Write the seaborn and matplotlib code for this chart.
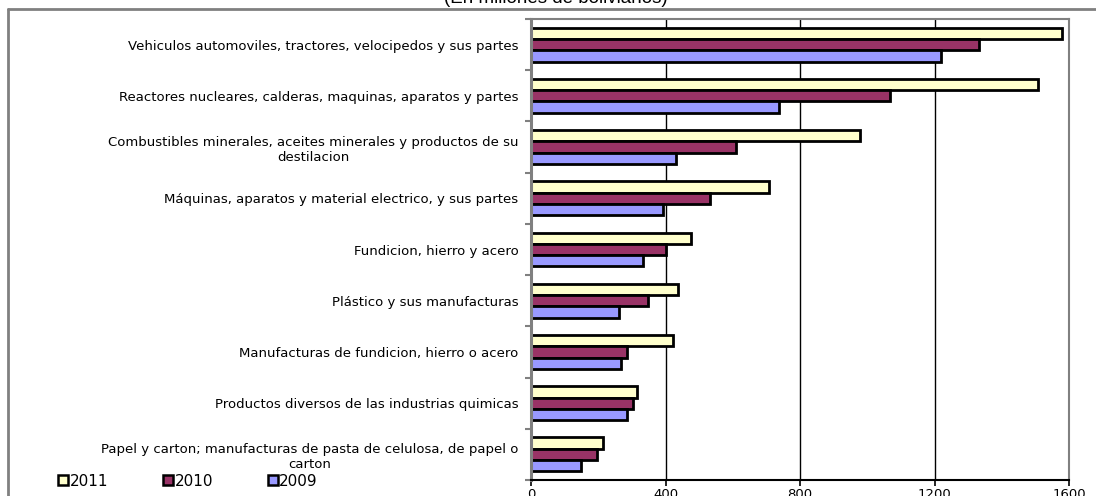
import numpy as np
import pandas as pd
import matplotlib.pyplot as plt
import matplotlib.lines as mlines
import seaborn as sns

# Datos (millones de bolivianos)
categorias = [
    "Vehiculos automoviles, tractores, velocipedos y sus partes",
    "Reactores nucleares, calderas, maquinas, aparatos y partes",
    "Combustibles minerales, aceites minerales y productos de su\ndestilacion",
    "Máquinas, aparatos y material electrico, y sus partes",
    "Fundicion, hierro y acero",
    "Plástico y sus manufacturas",
    "Manufacturas de fundicion, hierro o acero",
    "Productos diversos de las industrias quimicas",
    "Papel y carton; manufacturas de pasta de celulosa, de papel o\ncarton",
]
anios = ["2011", "2010", "2009"]
valores_2011 = [1578, 1507, 978, 708, 477, 437, 421, 314, 215]
valores_2010 = [1332, 1069, 610, 532, 401, 349, 286, 304, 195]
valores_2009 = [1219, 738, 431, 392, 334, 261, 267, 286, 150]
colores = ["#FFFFCC", "#993366", "#9999FF"]
xticks = [0, 400, 800, 1200, 1600]

df = pd.DataFrame({
    "categoria": categorias * 3,
    "anio": ["2011"] * 9 + ["2010"] * 9 + ["2009"] * 9,
    "valor": valores_2011 + valores_2010 + valores_2009,
})

sns.set_style("white")
plt.rcParams["font.family"] = ["DejaVu Sans"]
plt.rcParams["text.color"] = "black"
plt.rcParams["xtick.labelcolor"] = "black"
plt.rcParams["ytick.labelcolor"] = "black"

fig = plt.figure(figsize=(10.96, 4.96), dpi=100)
ax = fig.add_axes([531 / 1096, 1 - 480 / 496, 538 / 1096, 461 / 496])

sns.barplot(data=df, y="categoria", x="valor", hue="anio", hue_order=anios,
            palette=colores, saturation=1, orient="h", width=0.66, edgecolor="black",
            linewidth=2.0, ax=ax)

ax.set_xlim(0, 1600)
ax.set_ylim(8.5, -0.5)
ax.set_xticks(xticks)
ax.set_xticklabels([str(v) for v in xticks], fontsize=9.5)
ax.xaxis.grid(True, color="black", linewidth=1)
ax.set_axisbelow(True)
ax.set_xlabel("")
ax.set_ylabel("")

# etiquetas de categoria centradas y ticks entre categorias
ax.tick_params(axis="y", length=0, pad=9)
for lbl in ax.get_yticklabels():
    lbl.set_fontsize(9.5)
    lbl.set_color("black")
    lbl.set_multialignment("center")
ax.set_yticks(np.arange(-0.5, 9.0, 1), minor=True)
ax.tick_params(axis="y", which="minor", length=4, color="#808080", width=1.5, direction="out", left=True)
ax.tick_params(axis="x", length=4, width=1.2, color="black", pad=2, bottom=True)

for lado in ["top", "right"]:
    ax.spines[lado].set_color("#808080")
    ax.spines[lado].set_linewidth(1.5)
ax.spines["left"].set_color("#808080")
ax.spines["left"].set_linewidth(2.2)
ax.spines["bottom"].set_color("black")
ax.spines["bottom"].set_linewidth(1.5)

# leyenda abajo a la izquierda
ax.get_legend().remove()
handles = [mlines.Line2D([], [], marker="s", linestyle="none", markersize=7,
                         markerfacecolor=c, markeredgecolor="black", markeredgewidth=1.8)
           for c in colores]
fig.legend(handles, anios, loc="center left", bbox_to_anchor=(58 / 1096, 1 - 481 / 496),
           ncol=3, frameon=False, fontsize=11, handlelength=0.6, handletextpad=0.15,
           columnspacing=3.6, borderpad=0, borderaxespad=0)

# titulo (recortado arriba) y marco exterior del grafico
fig.text(556 / 1096, 1 - 3 / 496, "(En millones de bolivianos)", ha="center", va="baseline",
         fontsize=13.5, family="Liberation Sans")
fig.add_artist(mlines.Line2D([8 / 1096, 1.0], [1 - 9 / 496, 1 - 9 / 496], color="#808080",
                             linewidth=2, transform=fig.transFigure))
fig.add_artist(mlines.Line2D([8 / 1096, 8 / 1096], [1 - 9 / 496, 0.0], color="#808080",
                             linewidth=2, transform=fig.transFigure))

fig.savefig("out.png", dpi=100)
